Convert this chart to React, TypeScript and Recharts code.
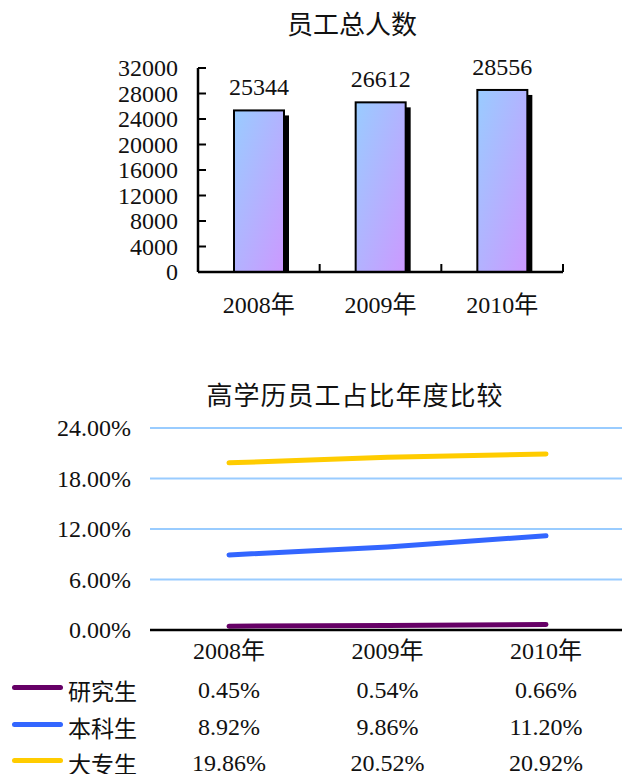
import { BarChart, Bar, XAxis, YAxis, LabelList, LineChart, Line, CartesianGrid } from 'recharts'

const years = ['2008年', '2009年', '2010年']
const headcount = [25344, 26612, 28556]
const countTicks = [0, 4000, 8000, 12000, 16000, 20000, 24000, 28000, 32000]

const seriesNames = ['研究生', '本科生', '大专生']
const graduate = [0.45, 0.54, 0.66]
const bachelor = [8.92, 9.86, 11.2]
const college = [19.86, 20.52, 20.92]
const pctTicks = [0, 6, 12, 18, 24]

const barData = years.map((year, i) => ({ year, count: headcount[i] }))
const lineData = years.map((year, i) => ({
  year,
  graduate: graduate[i],
  bachelor: bachelor[i],
  college: college[i],
}))

const series = [
  { key: 'graduate', name: seriesNames[0], color: '#660066', values: graduate },
  { key: 'bachelor', name: seriesNames[1], color: '#3366ff', values: bachelor },
  { key: 'college', name: seriesNames[2], color: '#ffcc00', values: college },
]

const FONT = "'Liberation Serif', 'DejaVu Serif', 'Noto Sans CJK SC', serif"
const CJK = "'Noto Sans CJK SC', sans-serif"
const TEXT = '#111'

// top chart layout
const TOP = { top: 68, right: 59, bottom: 18, left: 138 }
const TOP_YW = 60
const TOP_BAND = (622 - TOP.left - TOP.right - TOP_YW) / years.length

const pct = (v: number) => v.toFixed(2) + '%'

function ShadowBar(props: any) {
  const { x, y, width, height } = props
  return (
    <g>
      <rect x={x + 5} y={y + 5} width={width} height={Math.max(height - 5, 0)} fill="#000" />
      <rect x={x} y={y} width={width} height={height} fill="url(#barFill)" stroke="#000" strokeWidth={2} />
    </g>
  )
}

function CountTick({ x, y, payload }: any) {
  return (
    <g>
      <text x={x} y={y} dy="0.35em" textAnchor="end" fontSize={24} fill={TEXT} fontFamily={FONT}>
        {payload.value}
      </text>
      <line x1={x + 20} x2={x + 28} y1={y} y2={y} stroke="#000" strokeWidth={2} />
    </g>
  )
}

function YearTick({ x, y, payload }: any) {
  const edge = x + TOP_BAND / 2
  return (
    <g>
      <text x={x} y={y + 33} dy="0.35em" textAnchor="middle" fontSize={24} fill={TEXT} fontFamily={FONT}>
        {payload.value}
      </text>
      <line x1={edge} x2={edge} y1={y} y2={y - 8} stroke="#000" strokeWidth={2} />
    </g>
  )
}

function PctTick({ x, y, payload }: any) {
  return (
    <text x={x} y={y} dy="0.35em" textAnchor="end" fontSize={24} fill={TEXT} fontFamily={FONT}>
      {pct(payload.value)}
    </text>
  )
}

function TableTick({ x, y, payload, index }: any) {
  return (
    <g>
      <text x={x} y={y + 21} dy="0.35em" textAnchor="middle" fontSize={24} fill={TEXT} fontFamily={FONT}>
        {payload.value}
      </text>
      {series.map((s, k) => (
        <text key={s.key} x={x} y={y + 60 + k * 36.5} dy="0.35em" textAnchor="middle" fontSize={24} fill={TEXT} fontFamily={FONT}>
          {pct(s.values[index])}
        </text>
      ))}
    </g>
  )
}

export default function App() {
  return (
    <div style={{ position: 'absolute', left: 0, top: 0, width: 622, height: 774, background: '#fff', fontFamily: FONT, color: TEXT, overflow: 'hidden' }}>
      <div style={{ position: 'absolute', left: 202, width: 300, top: 10, textAlign: 'center', fontSize: 26, lineHeight: '26px', fontFamily: CJK, whiteSpace: 'nowrap' }}>
        员工总人数
      </div>
      <div style={{ position: 'absolute', left: 0, top: 0 }}>
        <BarChart width={622} height={340} data={barData} margin={TOP}>
          <defs>
            <linearGradient id="barFill" x1="0" y1="0" x2="1" y2="1">
              <stop offset="0%" stopColor="#99ccff" />
              <stop offset="100%" stopColor="#cc99ff" />
            </linearGradient>
          </defs>
          <XAxis
            dataKey="year"
            height={50}
            axisLine={{ stroke: '#000', strokeWidth: 2.5 }}
            tickLine={false}
            tickSize={0}
            tickMargin={0}
            tick={YearTick}
            interval={0}
          />
          <YAxis
            width={TOP_YW}
            domain={[0, 32000]}
            ticks={countTicks}
            interval={0}
            axisLine={{ stroke: '#000', strokeWidth: 2.5 }}
            tickLine={false}
            tickSize={0}
            tickMargin={20}
            tick={CountTick}
          />
          <Bar dataKey="count" barSize={50} shape={ShadowBar} isAnimationActive={false}>
            <LabelList dataKey="count" position="top" offset={15} fill={TEXT} fontSize={24} fontFamily={FONT} />
          </Bar>
        </BarChart>
      </div>

      <div style={{ position: 'absolute', left: 155, width: 400, top: 381, textAlign: 'center', fontSize: 26, lineHeight: '26px', letterSpacing: 1, fontFamily: CJK, whiteSpace: 'nowrap' }}>
        高学历员工占比年度比较
      </div>
      <div style={{ position: 'absolute', left: 0, top: 360 }}>
        <LineChart width={622} height={414} data={lineData} margin={{ top: 68, right: 0, bottom: 0, left: 50 }}>
          <CartesianGrid horizontal vertical={false} stroke="#99ccff" strokeWidth={2} />
          <XAxis
            dataKey="year"
            scale="point"
            padding={{ left: 79, right: 76 }}
            height={144}
            axisLine={{ stroke: '#000', strokeWidth: 2.5 }}
            tickLine={false}
            tickSize={0}
            tickMargin={0}
            tick={TableTick}
            interval={0}
          />
          <YAxis
            width={100}
            domain={[0, 24]}
            ticks={pctTicks}
            interval={0}
            axisLine={false}
            tickLine={false}
            tickSize={0}
            tickMargin={19}
            tick={PctTick}
          />
          {series.map((s) => (
            <Line
              key={s.key}
              type="linear"
              dataKey={s.key}
              name={s.name}
              stroke={s.color}
              strokeWidth={5}
              strokeLinecap="round"
              dot={false}
              activeDot={false}
              isAnimationActive={false}
            />
          ))}
        </LineChart>
      </div>

      {series.map((s, k) => (
        <div key={s.key}>
          <div style={{ position: 'absolute', left: 12, top: 685 + k * 36.5, width: 51, height: 5, borderRadius: 3, background: s.color }} />
          <div style={{ position: 'absolute', left: 68, top: 676 + k * 36.5, fontSize: 23, lineHeight: '28px', fontFamily: CJK, whiteSpace: 'nowrap' }}>
            {s.name}
          </div>
        </div>
      ))}
    </div>
  )
}
